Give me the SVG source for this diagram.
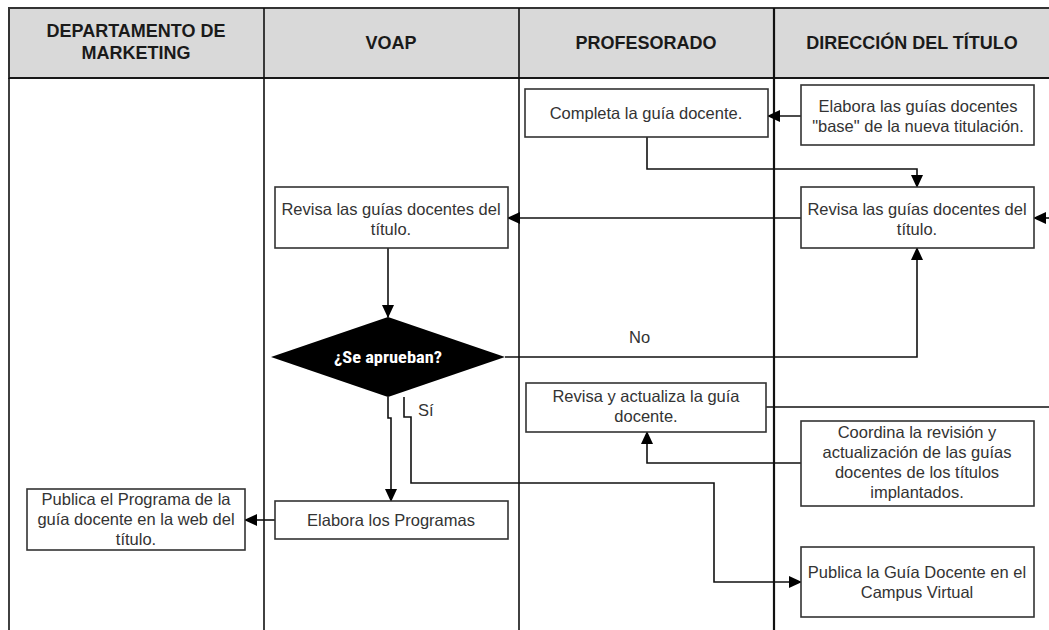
<svg xmlns="http://www.w3.org/2000/svg" width="1049" height="630" viewBox="0 0 1049 630">
<defs>
<marker id="ah" markerWidth="13" markerHeight="12" refX="12" refY="6" orient="auto" markerUnits="userSpaceOnUse">
<path d="M0,0 L13,6 L0,12 z" fill="#000"/>
</marker>
<style>
.hdr{fill:#d9d9d9;stroke:#333;stroke-width:2}
.lane{stroke:#111;stroke-width:1.6;fill:none}
.box{fill:#fff;stroke:#333;stroke-width:1.6}
.ht{font-family:"Liberation Sans",Arial,sans-serif;font-size:18px;font-weight:bold;fill:#1a1a1a;text-anchor:middle}
.t{font-family:"Liberation Sans",Arial,sans-serif;font-size:16.5px;fill:#333;text-anchor:middle}
.lbl{font-family:"Liberation Sans",Arial,sans-serif;font-size:16.5px;fill:#333}
.c{fill:none;stroke:#111;stroke-width:1.6}
.ca{fill:none;stroke:#111;stroke-width:1.6;marker-end:url(#ah)}
</style>
</defs>
<rect width="1049" height="630" fill="#fff"/>
<g id="lanes">
<rect class="hdr" x="9" y="8" width="1050" height="70"/>
<line class="lane" x1="9" y1="78" x2="9" y2="630"/>
<line class="lane" x1="264" y1="8" x2="264" y2="630"/>
<line class="lane" x1="519" y1="8" x2="519" y2="630"/>
<line class="lane" x1="774" y1="8" x2="774" y2="630" style="stroke-width:2.2"/>
<line class="lane" x1="9" y1="78" x2="1049" y2="78"/>
<text class="ht" x="136" y="37">DEPARTAMENTO DE</text>
<text class="ht" x="136" y="59">MARKETING</text>
<text class="ht" x="391" y="49">VOAP</text>
<text class="ht" x="646" y="49">PROFESORADO</text>
<text class="ht" x="912" y="49">DIRECCIÓN DEL TÍTULO</text>
</g>
<g id="connectors">
<path class="ca" d="M801,116 H768"/>
<path class="ca" d="M647,137 V169 H917 V187"/>
<path class="ca" d="M801,218 H508"/>
<path class="ca" d="M388,248 V317"/>
<path class="ca" d="M505,357 H917 V248"/>
<path class="ca" d="M388,397 V418 H391 V501"/>
<path class="ca" d="M404,397 V417 H411 V483 H714 V582 H801"/>
<path class="c" d="M766,407 H1049"/>
<path class="ca" d="M1049,218 H1034"/>
<path class="ca" d="M801,463 H647 V432"/>
<path class="ca" d="M275,520 H245"/>
<text class="lbl" x="629" y="343">No</text>
<text class="lbl" x="418" y="416">Sí</text>
</g>
<g id="n-completa">
<rect class="box" x="525" y="89" width="243" height="48"/>
<text class="t" x="646" y="119">Completa la guía docente.</text>
</g>
<g id="n-elabora-base">
<rect class="box" x="801" y="85" width="233" height="60"/>
<text class="t" x="918" y="112">Elabora las guías docentes</text>
<text class="t" x="918" y="132">"base" de la nueva titulación.</text>
</g>
<g id="n-revisa-voap">
<rect class="box" x="275" y="187" width="233" height="61"/>
<text class="t" x="391" y="215">Revisa las guías docentes del</text>
<text class="t" x="391" y="235">título.</text>
</g>
<g id="n-revisa-dir">
<rect class="box" x="801" y="187" width="233" height="61"/>
<text class="t" x="917" y="215">Revisa las guías docentes del</text>
<text class="t" x="917" y="235">título.</text>
</g>
<g id="n-decision">
<polygon points="271,357 388,317 505,357 388,397" fill="#000"/>
<text x="388" y="363" font-family="'Liberation Sans Narrow','Roboto Condensed','Liberation Sans',sans-serif" font-size="17" font-weight="bold" fill="#fff" text-anchor="middle" textLength="108" lengthAdjust="spacingAndGlyphs">¿Se aprueban?</text>
</g>
<g id="n-revisa-actualiza">
<rect class="box" x="526" y="383" width="240" height="49"/>
<text class="t" x="646" y="402">Revisa y actualiza la guía</text>
<text class="t" x="646" y="422">docente.</text>
</g>
<g id="n-coordina">
<rect class="box" x="801" y="421" width="233" height="85"/>
<text class="t" x="917" y="438">Coordina la revisión y</text>
<text class="t" x="917" y="458">actualización de las guías</text>
<text class="t" x="917" y="478">docentes de los títulos</text>
<text class="t" x="917" y="498">implantados.</text>
</g>
<g id="n-publica-programa">
<rect class="box" x="27" y="489" width="218" height="61"/>
<text class="t" x="136" y="505">Publica el Programa de la</text>
<text class="t" x="136" y="525">guía docente en la web del</text>
<text class="t" x="136" y="545">título.</text>
</g>
<g id="n-elabora-programas">
<rect class="box" x="275" y="501" width="233" height="38"/>
<text class="t" x="391" y="526">Elabora los Programas</text>
</g>
<g id="n-publica-guia">
<rect class="box" x="801" y="547" width="233" height="70"/>
<text class="t" x="917" y="578">Publica la Guía Docente en el</text>
<text class="t" x="917" y="598">Campus Virtual</text>
</g>
</svg>
